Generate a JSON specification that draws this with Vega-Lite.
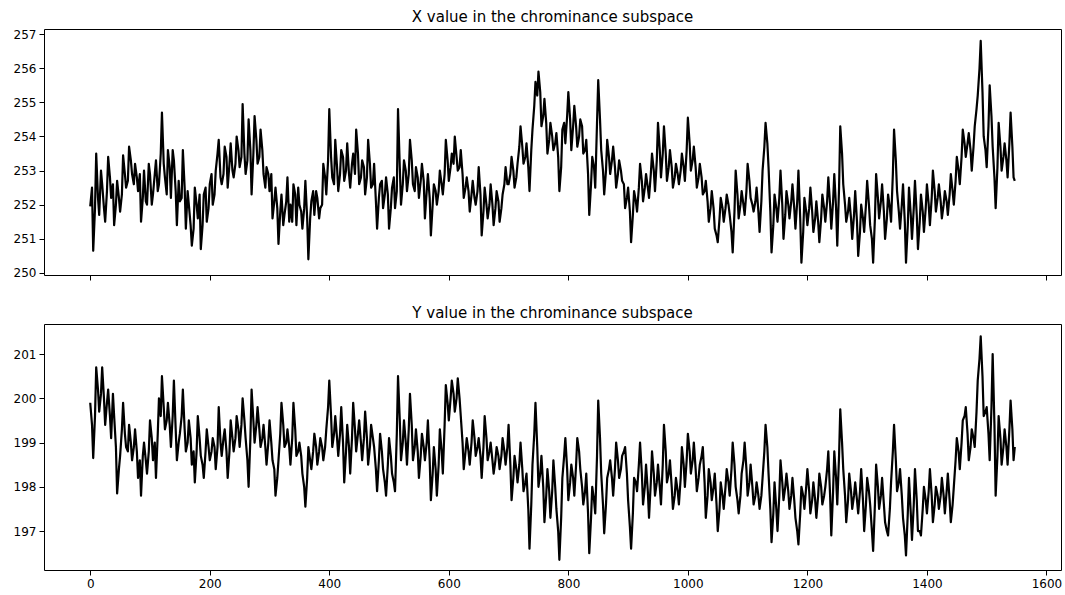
{
  "$schema": "https://vega.github.io/schema/vega-lite/v6.json",
  "background": "white",
  "padding": {"left": 5, "top": 9, "right": 5, "bottom": 5},
  "config": {
    "font": "DejaVu Sans",
    "view": {"stroke": "black", "strokeWidth": 1},
    "axis": {
      "domain": false,
      "grid": false,
      "tickColor": "black",
      "tickSize": 5,
      "tickWidth": 1,
      "labelColor": "black",
      "labelFont": "DejaVu Sans",
      "labelFontSize": 12,
      "labelPadding": 3,
      "title": null
    },
    "title": {"font": "DejaVu Sans", "fontSize": 15, "fontWeight": "normal", "color": "black", "offset": 3},
    "concat": {"spacing": 24}
  },
  "datasets": {
    "series": [
      {"t":0,"x":251.95,"y":199.9},{"t":3,"x":252.5,"y":199.4},{"t":5,"x":250.65,"y":198.65},{"t":8,"x":251.9,"y":199.6},{"t":10,"x":253.5,"y":200.7},{"t":13,"x":252.2,"y":200.2},
      {"t":15,"x":251.7,"y":199.7},{"t":18,"x":253.0,"y":200.1},{"t":20,"x":252.6,"y":200.7},{"t":23,"x":251.9,"y":200.0},{"t":25,"x":251.5,"y":199.4},{"t":28,"x":252.4,"y":199.9},
      {"t":30,"x":253.4,"y":200.2},{"t":33,"x":252.8,"y":199.6},{"t":35,"x":252.2,"y":199.1},{"t":38,"x":252.6,"y":200.1},{"t":40,"x":251.4,"y":199.6},{"t":43,"x":252.0,"y":198.9},
      {"t":45,"x":252.7,"y":197.85},{"t":48,"x":252.2,"y":198.4},{"t":50,"x":251.8,"y":198.7},{"t":53,"x":252.3,"y":199.3},{"t":55,"x":253.45,"y":199.9},{"t":58,"x":252.9,"y":199.2},
      {"t":60,"x":252.5,"y":198.9},{"t":63,"x":252.7,"y":198.8},{"t":65,"x":253.7,"y":199.4},{"t":68,"x":253.3,"y":199.0},{"t":70,"x":252.9,"y":198.6},{"t":73,"x":252.6,"y":198.9},
      {"t":75,"x":253.2,"y":199.3},{"t":78,"x":252.8,"y":198.8},{"t":80,"x":252.4,"y":198.2},{"t":83,"x":252.9,"y":198.6},{"t":85,"x":251.5,"y":197.8},{"t":88,"x":252.2,"y":198.7},
      {"t":90,"x":253.0,"y":199.0},{"t":93,"x":252.1,"y":198.6},{"t":95,"x":252.0,"y":198.3},{"t":98,"x":253.2,"y":198.8},{"t":100,"x":252.9,"y":199.5},{"t":103,"x":252.0,"y":199.1},
      {"t":105,"x":252.3,"y":198.6},{"t":108,"x":252.9,"y":199.0},{"t":110,"x":253.3,"y":198.2},{"t":113,"x":252.4,"y":199.2},{"t":115,"x":252.6,"y":200.0},{"t":118,"x":253.5,"y":199.6},
      {"t":120,"x":254.7,"y":200.5},{"t":123,"x":253.2,"y":199.8},{"t":125,"x":252.8,"y":199.3},{"t":128,"x":252.3,"y":199.5},{"t":130,"x":253.6,"y":199.9},{"t":133,"x":253.1,"y":199.4},
      {"t":135,"x":252.2,"y":198.9},{"t":138,"x":253.6,"y":199.6},{"t":140,"x":253.3,"y":200.4},{"t":143,"x":252.4,"y":199.3},{"t":145,"x":251.4,"y":198.6},{"t":148,"x":252.7,"y":199.0},
      {"t":150,"x":252.1,"y":199.2},{"t":153,"x":252.2,"y":199.6},{"t":155,"x":253.6,"y":200.2},{"t":158,"x":252.5,"y":199.3},{"t":160,"x":251.3,"y":198.8},{"t":163,"x":252.4,"y":199.0},
      {"t":165,"x":252.0,"y":199.5},{"t":168,"x":251.4,"y":199.1},{"t":170,"x":250.8,"y":198.5},{"t":173,"x":251.3,"y":198.8},{"t":175,"x":252.5,"y":198.1},{"t":178,"x":252.0,"y":198.8},
      {"t":180,"x":251.6,"y":199.6},{"t":183,"x":252.3,"y":199.1},{"t":185,"x":250.7,"y":198.7},{"t":188,"x":251.4,"y":198.5},{"t":190,"x":252.3,"y":198.2},{"t":193,"x":252.5,"y":198.8},
      {"t":195,"x":251.5,"y":199.3},{"t":198,"x":251.9,"y":198.9},{"t":200,"x":252.6,"y":198.6},{"t":203,"x":252.9,"y":198.8},{"t":205,"x":252.0,"y":199.1},{"t":208,"x":252.3,"y":198.9},
      {"t":210,"x":253.0,"y":198.4},{"t":213,"x":253.5,"y":198.9},{"t":215,"x":253.9,"y":199.8},{"t":218,"x":252.8,"y":199.0},{"t":220,"x":252.6,"y":198.7},{"t":223,"x":252.9,"y":199.1},
      {"t":225,"x":253.7,"y":199.3},{"t":228,"x":253.4,"y":198.8},{"t":230,"x":252.5,"y":198.2},{"t":233,"x":253.2,"y":198.8},{"t":235,"x":253.8,"y":199.5},{"t":238,"x":253.0,"y":199.1},
      {"t":240,"x":252.8,"y":198.8},{"t":243,"x":253.2,"y":199.1},{"t":245,"x":254.0,"y":199.6},{"t":248,"x":253.6,"y":199.3},{"t":250,"x":253.1,"y":198.9},{"t":253,"x":253.4,"y":199.4},
      {"t":255,"x":254.95,"y":200.0},{"t":258,"x":253.5,"y":199.5},{"t":260,"x":252.9,"y":199.1},{"t":263,"x":253.3,"y":198.6},{"t":265,"x":254.5,"y":198.0},{"t":268,"x":253.6,"y":199.1},
      {"t":270,"x":252.3,"y":200.2},{"t":273,"x":253.5,"y":199.5},{"t":275,"x":254.6,"y":199.0},{"t":278,"x":253.9,"y":199.4},{"t":280,"x":253.2,"y":199.8},{"t":283,"x":253.4,"y":199.3},
      {"t":285,"x":254.2,"y":198.9},{"t":288,"x":253.6,"y":199.1},{"t":290,"x":252.9,"y":199.4},{"t":293,"x":252.5,"y":198.9},{"t":295,"x":253.1,"y":198.5},{"t":298,"x":252.9,"y":199.0},
      {"t":300,"x":252.4,"y":199.5},{"t":303,"x":252.9,"y":199.0},{"t":305,"x":251.6,"y":198.6},{"t":308,"x":252.1,"y":198.4},{"t":310,"x":252.5,"y":197.8},{"t":313,"x":251.9,"y":198.2},
      {"t":315,"x":250.85,"y":198.6},{"t":318,"x":251.8,"y":199.2},{"t":320,"x":252.3,"y":199.9},{"t":323,"x":251.4,"y":199.4},{"t":325,"x":251.7,"y":198.9},{"t":328,"x":252.1,"y":199.0},
      {"t":330,"x":252.8,"y":199.3},{"t":333,"x":251.5,"y":198.9},{"t":335,"x":252.0,"y":198.5},{"t":338,"x":251.5,"y":199.1},{"t":340,"x":252.6,"y":199.9},{"t":343,"x":252.3,"y":199.3},
      {"t":345,"x":251.4,"y":198.7},{"t":348,"x":252.5,"y":198.8},{"t":350,"x":252.0,"y":199.0},{"t":353,"x":251.8,"y":198.7},{"t":355,"x":251.3,"y":198.3},{"t":358,"x":251.9,"y":198.0},
      {"t":360,"x":252.7,"y":197.55},{"t":363,"x":251.6,"y":198.2},{"t":365,"x":250.4,"y":198.9},{"t":368,"x":251.6,"y":198.6},{"t":370,"x":252.1,"y":198.4},{"t":373,"x":252.4,"y":198.8},
      {"t":375,"x":251.7,"y":199.2},{"t":378,"x":252.4,"y":198.9},{"t":380,"x":252.2,"y":198.5},{"t":383,"x":251.6,"y":198.8},{"t":385,"x":251.9,"y":199.1},{"t":388,"x":252.0,"y":198.9},
      {"t":390,"x":253.2,"y":198.6},{"t":393,"x":252.8,"y":198.9},{"t":395,"x":252.3,"y":199.3},{"t":398,"x":253.3,"y":199.8},{"t":400,"x":254.8,"y":200.4},{"t":403,"x":253.4,"y":199.6},
      {"t":405,"x":252.8,"y":198.9},{"t":408,"x":252.6,"y":199.2},{"t":410,"x":253.9,"y":199.6},{"t":413,"x":253.1,"y":199.1},{"t":415,"x":252.4,"y":198.7},{"t":418,"x":252.9,"y":199.2},
      {"t":420,"x":253.6,"y":199.8},{"t":423,"x":253.4,"y":199.0},{"t":425,"x":252.7,"y":198.1},{"t":428,"x":253.0,"y":198.8},{"t":430,"x":253.8,"y":199.4},{"t":433,"x":252.9,"y":198.9},
      {"t":435,"x":252.5,"y":198.3},{"t":438,"x":253.2,"y":199.1},{"t":440,"x":253.5,"y":199.9},{"t":443,"x":252.9,"y":199.3},{"t":445,"x":254.2,"y":198.8},{"t":448,"x":253.5,"y":199.2},
      {"t":450,"x":252.6,"y":199.5},{"t":453,"x":252.8,"y":199.0},{"t":455,"x":253.3,"y":198.6},{"t":458,"x":253.1,"y":199.1},{"t":460,"x":252.3,"y":199.7},{"t":463,"x":252.8,"y":199.1},
      {"t":465,"x":253.9,"y":198.5},{"t":468,"x":253.2,"y":198.9},{"t":470,"x":252.5,"y":199.4},{"t":473,"x":252.6,"y":199.1},{"t":475,"x":253.2,"y":198.9},{"t":478,"x":252.1,"y":198.4},
      {"t":480,"x":251.3,"y":197.9},{"t":483,"x":252.2,"y":198.6},{"t":485,"x":252.6,"y":199.2},{"t":488,"x":252.7,"y":198.8},{"t":490,"x":251.9,"y":198.4},{"t":493,"x":252.3,"y":198.1},
      {"t":495,"x":252.8,"y":197.8},{"t":498,"x":252.3,"y":198.5},{"t":500,"x":251.3,"y":199.1},{"t":503,"x":251.9,"y":198.7},{"t":505,"x":252.5,"y":198.3},{"t":508,"x":252.8,"y":198.1},
      {"t":510,"x":251.9,"y":197.9},{"t":513,"x":252.4,"y":199.2},{"t":515,"x":254.8,"y":200.5},{"t":518,"x":253.1,"y":199.5},{"t":520,"x":252.0,"y":198.6},{"t":523,"x":252.6,"y":199.0},
      {"t":525,"x":253.3,"y":199.5},{"t":528,"x":253.0,"y":199.0},{"t":530,"x":252.4,"y":198.5},{"t":533,"x":252.9,"y":199.3},{"t":535,"x":253.9,"y":200.1},{"t":538,"x":253.3,"y":199.4},
      {"t":540,"x":252.6,"y":198.6},{"t":543,"x":252.4,"y":198.9},{"t":545,"x":253.1,"y":199.3},{"t":548,"x":252.8,"y":198.8},{"t":550,"x":252.2,"y":198.2},{"t":553,"x":252.7,"y":198.7},
      {"t":555,"x":253.2,"y":199.2},{"t":558,"x":252.7,"y":198.9},{"t":560,"x":251.6,"y":198.6},{"t":563,"x":252.4,"y":199.0},{"t":565,"x":252.9,"y":199.5},{"t":568,"x":252.2,"y":198.6},
      {"t":570,"x":251.1,"y":197.7},{"t":573,"x":252.0,"y":198.3},{"t":575,"x":252.6,"y":198.9},{"t":578,"x":252.4,"y":198.4},{"t":580,"x":252.0,"y":197.8},{"t":583,"x":252.4,"y":198.5},
      {"t":585,"x":253.0,"y":199.3},{"t":588,"x":252.6,"y":198.8},{"t":590,"x":252.3,"y":198.3},{"t":593,"x":252.9,"y":199.4},{"t":595,"x":253.9,"y":200.3},{"t":598,"x":253.3,"y":199.9},
      {"t":600,"x":252.7,"y":199.5},{"t":603,"x":253.1,"y":200.0},{"t":605,"x":253.5,"y":200.4},{"t":608,"x":253.2,"y":200.1},{"t":610,"x":254.0,"y":199.7},{"t":613,"x":253.4,"y":200.0},
      {"t":615,"x":253.0,"y":200.45},{"t":618,"x":253.1,"y":200.0},{"t":620,"x":253.6,"y":199.6},{"t":623,"x":252.9,"y":199.0},{"t":625,"x":252.2,"y":198.4},{"t":628,"x":252.5,"y":198.8},
      {"t":630,"x":252.8,"y":199.1},{"t":633,"x":252.4,"y":198.8},{"t":635,"x":251.8,"y":198.5},{"t":638,"x":252.3,"y":199.0},{"t":640,"x":252.7,"y":199.5},{"t":643,"x":252.2,"y":199.1},
      {"t":645,"x":252.0,"y":198.7},{"t":648,"x":252.4,"y":198.9},{"t":650,"x":253.1,"y":199.1},{"t":653,"x":252.3,"y":198.7},{"t":655,"x":251.1,"y":198.2},{"t":658,"x":251.8,"y":198.9},
      {"t":660,"x":252.5,"y":199.6},{"t":663,"x":252.0,"y":199.1},{"t":665,"x":251.6,"y":198.6},{"t":668,"x":252.0,"y":198.8},{"t":670,"x":252.6,"y":199.0},{"t":673,"x":252.0,"y":198.6},
      {"t":675,"x":251.4,"y":198.3},{"t":678,"x":251.9,"y":198.6},{"t":680,"x":252.4,"y":198.9},{"t":683,"x":252.1,"y":198.7},{"t":685,"x":251.5,"y":198.4},{"t":688,"x":251.9,"y":198.7},
      {"t":690,"x":252.3,"y":199.1},{"t":693,"x":252.6,"y":198.8},{"t":695,"x":253.1,"y":198.5},{"t":698,"x":252.6,"y":198.9},{"t":700,"x":252.6,"y":199.4},{"t":703,"x":252.9,"y":198.5},
      {"t":705,"x":253.4,"y":197.7},{"t":708,"x":253.0,"y":198.2},{"t":710,"x":252.5,"y":198.7},{"t":713,"x":252.8,"y":198.4},{"t":715,"x":253.2,"y":198.1},{"t":718,"x":253.7,"y":198.5},
      {"t":720,"x":254.3,"y":199.0},{"t":723,"x":253.7,"y":198.4},{"t":725,"x":253.2,"y":197.9},{"t":728,"x":253.4,"y":198.1},{"t":730,"x":253.8,"y":198.3},{"t":733,"x":253.1,"y":197.5},
      {"t":735,"x":252.4,"y":196.6},{"t":738,"x":253.6,"y":197.6},{"t":740,"x":254.2,"y":198.5},{"t":743,"x":254.9,"y":199.2},{"t":745,"x":255.6,"y":199.9},{"t":748,"x":255.2,"y":198.9},
      {"t":750,"x":255.9,"y":198.0},{"t":753,"x":255.3,"y":198.3},{"t":755,"x":254.3,"y":198.7},{"t":758,"x":254.6,"y":198.0},{"t":760,"x":255.1,"y":197.2},{"t":763,"x":254.4,"y":197.8},
      {"t":765,"x":253.5,"y":198.4},{"t":768,"x":253.9,"y":197.9},{"t":770,"x":254.4,"y":197.3},{"t":773,"x":254.0,"y":197.9},{"t":775,"x":253.6,"y":198.6},{"t":778,"x":253.8,"y":198.0},
      {"t":780,"x":254.1,"y":197.5},{"t":783,"x":253.4,"y":197.0},{"t":785,"x":252.4,"y":196.35},{"t":788,"x":253.1,"y":197.3},{"t":790,"x":254.2,"y":198.2},{"t":793,"x":254.4,"y":198.7},
      {"t":795,"x":253.8,"y":199.1},{"t":798,"x":254.6,"y":198.4},{"t":800,"x":255.3,"y":197.7},{"t":803,"x":254.5,"y":198.1},{"t":805,"x":253.6,"y":198.5},{"t":808,"x":254.3,"y":198.2},
      {"t":810,"x":254.9,"y":197.8},{"t":813,"x":254.3,"y":198.5},{"t":815,"x":253.7,"y":199.1},{"t":818,"x":254.0,"y":198.8},{"t":820,"x":254.5,"y":198.4},{"t":823,"x":254.3,"y":198.0},
      {"t":825,"x":253.5,"y":197.6},{"t":828,"x":253.6,"y":197.9},{"t":830,"x":253.9,"y":198.3},{"t":833,"x":252.9,"y":197.4},{"t":835,"x":251.7,"y":196.5},{"t":838,"x":252.6,"y":197.3},
      {"t":840,"x":253.4,"y":198.0},{"t":843,"x":253.1,"y":197.7},{"t":845,"x":252.5,"y":197.4},{"t":848,"x":254.4,"y":198.7},{"t":850,"x":255.65,"y":199.95},{"t":853,"x":254.5,"y":199.1},
      {"t":855,"x":253.6,"y":198.3},{"t":858,"x":253.0,"y":197.6},{"t":860,"x":252.3,"y":196.95},{"t":863,"x":253.0,"y":197.6},{"t":865,"x":253.9,"y":198.2},{"t":868,"x":253.4,"y":198.4},
      {"t":870,"x":252.9,"y":198.6},{"t":873,"x":253.3,"y":198.2},{"t":875,"x":253.7,"y":197.8},{"t":878,"x":253.1,"y":198.4},{"t":880,"x":252.5,"y":199.0},{"t":883,"x":252.9,"y":198.6},
      {"t":885,"x":253.3,"y":198.2},{"t":888,"x":253.0,"y":198.4},{"t":890,"x":252.7,"y":198.7},{"t":893,"x":252.6,"y":198.8},{"t":895,"x":251.9,"y":198.9},{"t":898,"x":252.2,"y":198.3},
      {"t":900,"x":252.5,"y":197.7},{"t":903,"x":251.8,"y":197.1},{"t":905,"x":250.9,"y":196.6},{"t":908,"x":251.7,"y":197.4},{"t":910,"x":252.4,"y":198.2},{"t":913,"x":252.1,"y":198.1},
      {"t":915,"x":251.8,"y":197.9},{"t":918,"x":252.5,"y":198.5},{"t":920,"x":253.2,"y":199.0},{"t":923,"x":252.7,"y":198.3},{"t":925,"x":252.1,"y":197.6},{"t":928,"x":252.5,"y":198.0},
      {"t":930,"x":252.9,"y":198.5},{"t":933,"x":252.5,"y":197.9},{"t":935,"x":252.2,"y":197.3},{"t":938,"x":252.9,"y":198.1},{"t":940,"x":253.5,"y":198.8},{"t":943,"x":253.0,"y":198.3},
      {"t":945,"x":252.4,"y":197.8},{"t":948,"x":253.3,"y":198.1},{"t":950,"x":254.4,"y":198.5},{"t":953,"x":253.6,"y":198.0},{"t":955,"x":252.8,"y":197.6},{"t":958,"x":253.5,"y":198.5},
      {"t":960,"x":254.3,"y":199.4},{"t":963,"x":253.5,"y":198.8},{"t":965,"x":252.7,"y":198.1},{"t":968,"x":253.1,"y":198.3},{"t":970,"x":253.6,"y":198.6},{"t":973,"x":253.1,"y":198.0},
      {"t":975,"x":252.5,"y":197.5},{"t":978,"x":252.8,"y":197.8},{"t":980,"x":253.2,"y":198.2},{"t":983,"x":252.9,"y":197.9},{"t":985,"x":252.6,"y":197.6},{"t":988,"x":253.0,"y":198.2},
      {"t":990,"x":253.5,"y":198.9},{"t":993,"x":253.1,"y":198.5},{"t":995,"x":252.7,"y":198.0},{"t":998,"x":253.6,"y":198.6},{"t":1000,"x":254.55,"y":199.2},{"t":1003,"x":253.8,"y":198.8},
      {"t":1005,"x":253.0,"y":198.3},{"t":1008,"x":253.3,"y":198.6},{"t":1010,"x":253.7,"y":199.0},{"t":1013,"x":253.1,"y":198.4},{"t":1015,"x":252.5,"y":197.9},{"t":1018,"x":252.8,"y":198.2},
      {"t":1020,"x":253.2,"y":198.5},{"t":1023,"x":252.8,"y":198.7},{"t":1025,"x":252.3,"y":198.9},{"t":1028,"x":252.4,"y":198.1},{"t":1030,"x":252.7,"y":197.3},{"t":1033,"x":252.1,"y":197.8},
      {"t":1035,"x":251.5,"y":198.4},{"t":1038,"x":251.9,"y":198.1},{"t":1040,"x":252.4,"y":197.7},{"t":1043,"x":251.9,"y":198.0},{"t":1045,"x":251.3,"y":198.3},{"t":1048,"x":251.1,"y":197.6},
      {"t":1050,"x":250.9,"y":197.0},{"t":1053,"x":251.6,"y":197.5},{"t":1055,"x":252.2,"y":198.1},{"t":1058,"x":251.9,"y":197.8},{"t":1060,"x":251.5,"y":197.5},{"t":1063,"x":251.9,"y":198.0},
      {"t":1065,"x":252.3,"y":198.4},{"t":1068,"x":252.0,"y":198.1},{"t":1070,"x":251.7,"y":197.8},{"t":1073,"x":251.2,"y":198.4},{"t":1075,"x":250.6,"y":199.0},{"t":1078,"x":251.8,"y":198.5},
      {"t":1080,"x":253.0,"y":198.0},{"t":1083,"x":252.3,"y":197.7},{"t":1085,"x":251.6,"y":197.4},{"t":1088,"x":252.0,"y":197.8},{"t":1090,"x":252.4,"y":198.3},{"t":1093,"x":252.0,"y":198.6},
      {"t":1095,"x":251.7,"y":199.0},{"t":1098,"x":252.4,"y":198.4},{"t":1100,"x":253.2,"y":197.8},{"t":1103,"x":252.7,"y":198.1},{"t":1105,"x":252.2,"y":198.5},{"t":1108,"x":252.0,"y":198.0},
      {"t":1110,"x":251.8,"y":197.6},{"t":1113,"x":252.1,"y":197.8},{"t":1115,"x":252.5,"y":198.1},{"t":1118,"x":251.8,"y":197.8},{"t":1120,"x":251.2,"y":197.5},{"t":1123,"x":252.1,"y":197.8},
      {"t":1125,"x":253.0,"y":198.2},{"t":1128,"x":253.7,"y":198.8},{"t":1130,"x":254.4,"y":199.4},{"t":1133,"x":253.8,"y":198.9},{"t":1135,"x":253.1,"y":198.3},{"t":1138,"x":251.8,"y":197.5},
      {"t":1140,"x":250.6,"y":196.75},{"t":1143,"x":251.4,"y":197.4},{"t":1145,"x":252.3,"y":198.1},{"t":1148,"x":251.9,"y":197.5},{"t":1150,"x":251.5,"y":197.0},{"t":1153,"x":252.2,"y":197.8},
      {"t":1155,"x":253.0,"y":198.6},{"t":1158,"x":252.0,"y":198.1},{"t":1160,"x":251.0,"y":197.7},{"t":1163,"x":251.7,"y":198.0},{"t":1165,"x":252.4,"y":198.3},{"t":1168,"x":252.0,"y":197.9},
      {"t":1170,"x":251.6,"y":197.5},{"t":1173,"x":252.1,"y":197.8},{"t":1175,"x":252.6,"y":198.2},{"t":1178,"x":251.9,"y":197.7},{"t":1180,"x":251.3,"y":197.3},{"t":1183,"x":252.1,"y":197.0},
      {"t":1185,"x":253.0,"y":196.7},{"t":1188,"x":251.6,"y":197.4},{"t":1190,"x":250.3,"y":198.0},{"t":1193,"x":251.2,"y":197.8},{"t":1195,"x":252.2,"y":197.5},{"t":1198,"x":251.8,"y":198.0},
      {"t":1200,"x":251.4,"y":198.4},{"t":1203,"x":251.9,"y":197.9},{"t":1205,"x":252.5,"y":197.4},{"t":1208,"x":251.8,"y":197.7},{"t":1210,"x":251.2,"y":198.1},{"t":1213,"x":251.6,"y":197.7},
      {"t":1215,"x":252.1,"y":197.3},{"t":1218,"x":251.5,"y":197.8},{"t":1220,"x":250.9,"y":198.3},{"t":1223,"x":251.6,"y":198.0},{"t":1225,"x":252.3,"y":197.6},{"t":1228,"x":251.9,"y":197.8},
      {"t":1230,"x":251.5,"y":198.0},{"t":1233,"x":252.1,"y":198.4},{"t":1235,"x":252.8,"y":198.8},{"t":1238,"x":252.0,"y":197.8},{"t":1240,"x":251.3,"y":196.9},{"t":1243,"x":252.1,"y":197.9},
      {"t":1245,"x":252.9,"y":198.8},{"t":1248,"x":251.9,"y":198.2},{"t":1250,"x":250.8,"y":197.6},{"t":1253,"x":252.5,"y":198.7},{"t":1255,"x":254.3,"y":199.75},{"t":1258,"x":253.5,"y":199.0},
      {"t":1260,"x":252.6,"y":198.4},{"t":1263,"x":252.0,"y":197.8},{"t":1265,"x":251.5,"y":197.2},{"t":1268,"x":251.8,"y":197.7},{"t":1270,"x":252.2,"y":198.3},{"t":1273,"x":251.6,"y":197.9},
      {"t":1275,"x":251.0,"y":197.5},{"t":1278,"x":251.7,"y":197.8},{"t":1280,"x":252.4,"y":198.1},{"t":1283,"x":251.5,"y":197.7},{"t":1285,"x":250.5,"y":197.4},{"t":1288,"x":251.2,"y":197.9},
      {"t":1290,"x":252.0,"y":198.4},{"t":1293,"x":251.6,"y":197.7},{"t":1295,"x":251.2,"y":197.0},{"t":1298,"x":252.0,"y":197.6},{"t":1300,"x":252.7,"y":198.2},{"t":1303,"x":252.0,"y":197.9},
      {"t":1305,"x":251.4,"y":197.6},{"t":1308,"x":251.0,"y":197.0},{"t":1310,"x":250.3,"y":196.55},{"t":1313,"x":251.6,"y":197.6},{"t":1315,"x":252.9,"y":198.5},{"t":1318,"x":252.2,"y":198.0},
      {"t":1320,"x":251.6,"y":197.5},{"t":1323,"x":252.1,"y":197.8},{"t":1325,"x":252.6,"y":198.2},{"t":1328,"x":251.8,"y":197.6},{"t":1330,"x":251.0,"y":197.2},{"t":1333,"x":251.6,"y":197.0},
      {"t":1335,"x":252.3,"y":196.9},{"t":1338,"x":251.9,"y":197.5},{"t":1340,"x":251.5,"y":198.1},{"t":1343,"x":252.9,"y":198.8},{"t":1345,"x":254.2,"y":199.4},{"t":1348,"x":253.3,"y":198.6},
      {"t":1350,"x":252.4,"y":197.9},{"t":1353,"x":251.8,"y":198.1},{"t":1355,"x":251.3,"y":198.4},{"t":1358,"x":252.0,"y":197.8},{"t":1360,"x":252.6,"y":197.3},{"t":1363,"x":251.5,"y":196.9},
      {"t":1365,"x":250.3,"y":196.45},{"t":1368,"x":251.4,"y":197.4},{"t":1370,"x":252.5,"y":198.2},{"t":1373,"x":251.7,"y":197.4},{"t":1375,"x":251.0,"y":196.8},{"t":1378,"x":251.9,"y":197.6},
      {"t":1380,"x":252.7,"y":198.4},{"t":1383,"x":251.7,"y":197.7},{"t":1385,"x":250.7,"y":197.0},{"t":1388,"x":251.5,"y":197.0},{"t":1390,"x":252.3,"y":196.9},{"t":1393,"x":251.8,"y":197.5},
      {"t":1395,"x":251.2,"y":198.0},{"t":1398,"x":251.9,"y":197.7},{"t":1400,"x":252.6,"y":197.4},{"t":1403,"x":252.0,"y":197.9},{"t":1405,"x":251.4,"y":198.4},{"t":1408,"x":252.2,"y":197.8},
      {"t":1410,"x":253.0,"y":197.2},{"t":1413,"x":252.4,"y":197.6},{"t":1415,"x":251.8,"y":198.0},{"t":1418,"x":252.2,"y":197.8},{"t":1420,"x":252.6,"y":197.5},{"t":1423,"x":252.1,"y":197.8},
      {"t":1425,"x":251.6,"y":198.2},{"t":1428,"x":252.0,"y":197.8},{"t":1430,"x":252.4,"y":197.4},{"t":1433,"x":252.1,"y":197.9},{"t":1435,"x":251.7,"y":198.3},{"t":1438,"x":252.3,"y":197.7},
      {"t":1440,"x":252.9,"y":197.2},{"t":1443,"x":252.4,"y":197.6},{"t":1445,"x":252.0,"y":198.0},{"t":1448,"x":252.7,"y":198.6},{"t":1450,"x":253.4,"y":199.1},{"t":1453,"x":253.0,"y":198.8},
      {"t":1455,"x":252.6,"y":198.4},{"t":1458,"x":253.4,"y":199.0},{"t":1460,"x":254.2,"y":199.5},{"t":1463,"x":253.8,"y":199.6},{"t":1465,"x":253.4,"y":199.8},{"t":1468,"x":253.8,"y":199.2},
      {"t":1470,"x":254.1,"y":198.6},{"t":1473,"x":253.6,"y":198.9},{"t":1475,"x":253.0,"y":199.3},{"t":1478,"x":253.7,"y":199.1},{"t":1480,"x":254.3,"y":198.9},{"t":1483,"x":254.8,"y":199.7},
      {"t":1485,"x":255.2,"y":200.4},{"t":1488,"x":256.0,"y":200.9},{"t":1490,"x":256.8,"y":201.4},{"t":1493,"x":255.3,"y":200.5},{"t":1495,"x":254.0,"y":199.6},{"t":1498,"x":253.6,"y":199.7},
      {"t":1500,"x":253.1,"y":199.8},{"t":1503,"x":254.3,"y":199.2},{"t":1505,"x":255.5,"y":198.6},{"t":1508,"x":254.6,"y":199.8},{"t":1510,"x":253.7,"y":201.0},{"t":1513,"x":252.8,"y":199.4},
      {"t":1515,"x":251.9,"y":197.8},{"t":1518,"x":253.1,"y":198.7},{"t":1520,"x":254.4,"y":199.6},{"t":1523,"x":253.7,"y":199.1},{"t":1525,"x":253.0,"y":198.5},{"t":1528,"x":253.4,"y":198.9},
      {"t":1530,"x":253.8,"y":199.3},{"t":1533,"x":253.3,"y":198.9},{"t":1535,"x":252.8,"y":198.5},{"t":1538,"x":253.8,"y":199.3},{"t":1540,"x":254.7,"y":199.95},{"t":1543,"x":253.7,"y":199.3},
      {"t":1545,"x":252.8,"y":198.6},{"t":1547,"x":252.7,"y":198.9}
    ]
  },
  "vconcat": [
    {
      "title": "X value in the chrominance subspace",
      "width": 1017,
      "height": 246,
      "data": {"name": "series"},
      "mark": {"type": "line", "color": "black", "strokeWidth": 2.2, "strokeJoin": "round"},
      "encoding": {
        "x": {
          "field": "t", "type": "quantitative",
          "scale": {"domain": [-77.35, 1624.35], "nice": false, "zero": false},
          "axis": {"values": [0, 200, 400, 600, 800, 1000, 1200, 1400, 1600], "labels": false, "minExtent": 5, "maxExtent": 5}
        },
        "y": {
          "field": "x", "type": "quantitative",
          "scale": {"domain": [249.94, 257.15], "nice": false, "zero": false},
          "axis": {"values": [250, 251, 252, 253, 254, 255, 256, 257], "format": "d", "minExtent": 38, "maxExtent": 38}
        }
      }
    },
    {
      "title": "Y value in the chrominance subspace",
      "width": 1017,
      "height": 246,
      "data": {"name": "series"},
      "mark": {"type": "line", "color": "black", "strokeWidth": 2.2, "strokeJoin": "round"},
      "encoding": {
        "x": {
          "field": "t", "type": "quantitative",
          "scale": {"domain": [-77.35, 1624.35], "nice": false, "zero": false},
          "axis": {"values": [0, 200, 400, 600, 800, 1000, 1200, 1400, 1600], "format": "d"}
        },
        "y": {
          "field": "y", "type": "quantitative",
          "scale": {"domain": [196.12, 201.68], "nice": false, "zero": false},
          "axis": {"values": [197, 198, 199, 200, 201], "format": "d", "minExtent": 38, "maxExtent": 38}
        }
      }
    }
  ]
}
